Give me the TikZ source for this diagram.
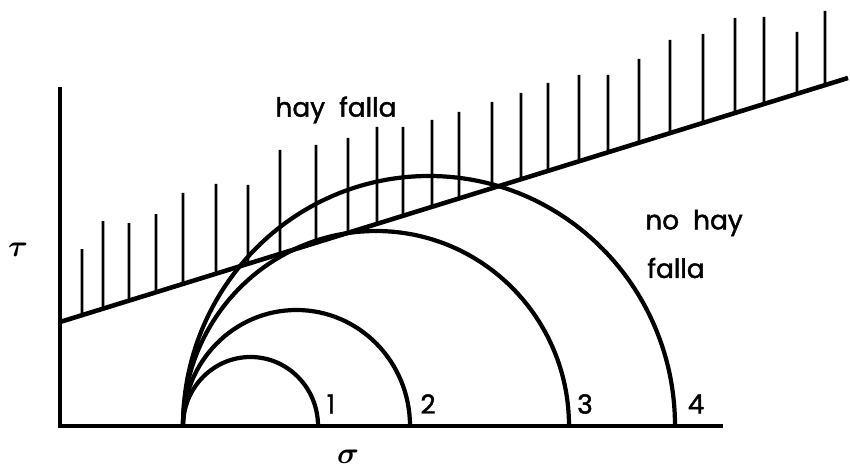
\documentclass[tikz,border=0pt]{standalone}
\usepackage{amsmath}
\usepackage{fontspec}
\setmainfont{Poppins}
\newfontfamily\rotfont{Poppins}[FakeBold=1.6]
\usetikzlibrary{calc}

\begin{document}
\begin{tikzpicture}[x=0.2mm, y=0.2mm,
        axis/.style={line width=2.4pt},
        env/.style={line width=2.6pt},
        hatch/.style={line width=1.5pt},
        mohr/.style={line width=2.4pt},
        lbl/.style={font=\rotfont\fontsize{15}{18}\selectfont, inner sep=0pt},
        sym/.style={font=\LARGE, inner sep=0pt}]

        \useasboundingbox (0,0) rectangle (850,468);

        \coordinate (O) at (60,42);
        \coordinate (tauEnd) at (60,381);
        \coordinate (sigEnd) at (723,42);
        \coordinate (envA) at (60,146);
        \coordinate (envB) at (848,390);
        \coordinate (P) at (183,42);

        % circulos de Mohr
        \draw[mohr] (P) arc[start angle=180, end angle=0, x radius=67.5, y radius=69];
        \draw[mohr] (P) arc[start angle=180, end angle=0, x radius=113.5, y radius=116];
        \draw[mohr] (P) arc[start angle=180, end angle=0, x radius=193, y radius=195];
        \draw[mohr] (P) arc[start angle=180, end angle=0, x radius=246, y radius=250];

        % ejes
        \draw[axis] (tauEnd) -- (O) -- (sigEnd);

        % envolvente y rayado
        \draw[env] (envA) -- (envB);
        \foreach \hx/\hy in {82/219, 103/247, 129/245, 156/254, 183/275, 216/284, 248/283,
            280/318, 316/323, 348/330, 377/341, 403/341, 432/348, 459/356, 492/366,
            521/375, 548/385, 579/393, 608/393, 639/409, 670/428, 703/434, 735/450,
            764/451, 797/436, 825/457}
          \draw[hatch] ($(envA)!{(\hx-60)/788}!(envB)$) -- (\hx,\hy);

        \node[lbl] (n1) at (331,64) {1};
        \node[lbl] (n2) at (428,64) {2};
        \node[lbl] (n3) at (585,64) {3};
        \node[lbl] (n4) at (696,64) {4};

        \node[sym] (tau) at (18,218) {$\boldsymbol{\tau}$};
        \node[sym] (sigma) at (348,11) {$\boldsymbol{\sigma}$};

        \node[lbl] (falla) at (336,358) {hay\ \ falla};
        \node[lbl, anchor=west] (nohay) at (645,245) {no\ \ hay};
        \node[lbl, anchor=west] (nofalla) at (647,200) {falla};
      \end{tikzpicture}
\end{document}
